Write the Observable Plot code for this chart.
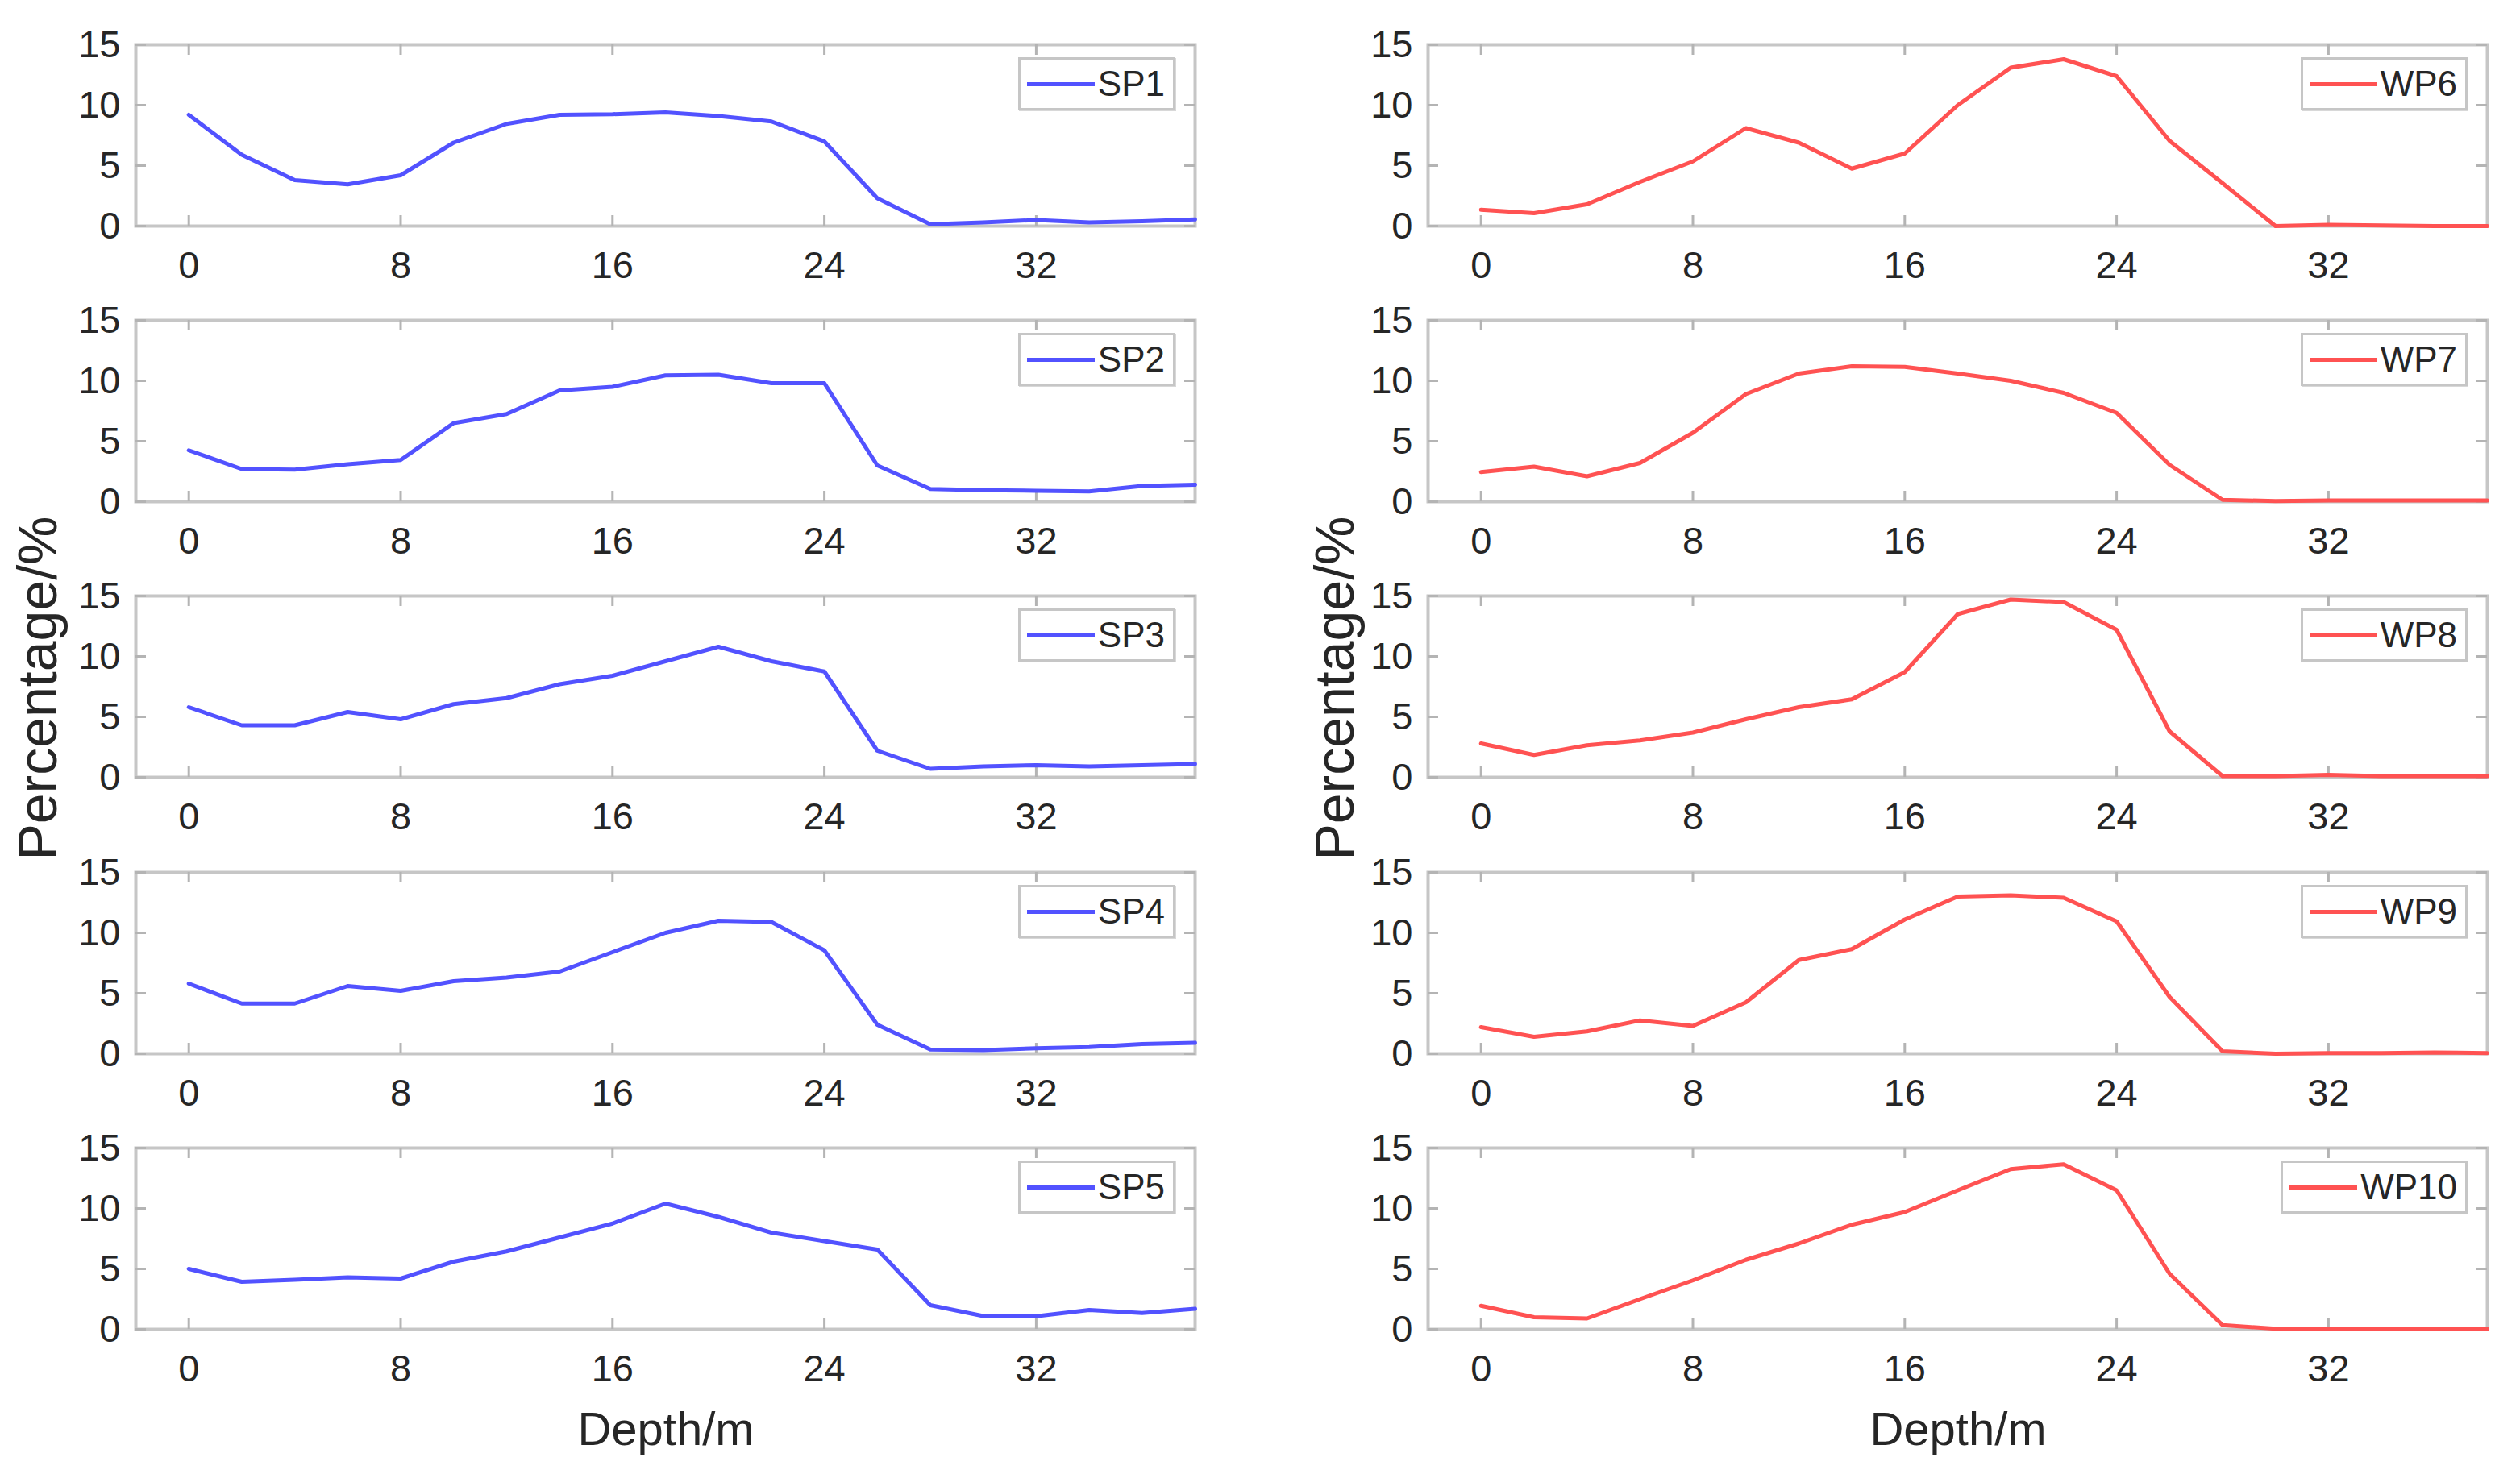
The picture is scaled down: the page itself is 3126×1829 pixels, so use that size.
<!DOCTYPE html>
<html>
<head>
<meta charset="utf-8">
<script src="https://cdn.jsdelivr.net/npm/d3@7"></script>
<script src="https://cdn.jsdelivr.net/npm/@observablehq/plot@0.6"></script>
<style>
  html, body { margin: 0; padding: 0; background: #fff; }
  #page { position: relative; width: 3126px; height: 1829px; background: #fff; font-family: "Liberation Sans", Arial, sans-serif; color: #262626; }
  .panel { position: absolute; }
  .legend { position: absolute; display: flex; align-items: center; background: #fff; border: 3px solid #c6c6c6; box-shadow: 1px 1px 0 #d8d8d8; height: 60px; padding: 0 10px 0 8px; font-size: 44px; color: #262626; box-sizing: content-box; }
  .legend .sw { width: 84px; height: 5px; margin-right: 4px; }
  .ylab { position: absolute; font-size: 68px; color: #262626; transform: translate(-50%, -50%) rotate(-90deg); white-space: nowrap; }
  .xlab { position: absolute; font-size: 58px; color: #262626; transform: translate(-50%, -50%); white-space: nowrap; }
</style>
</head>
<body>
<div id="page"></div>
<script>
const depth = [0,2,4,6,8,10,12,14,16,18,20,22,24,26,28,30,32,34,36,38];
const xTicks = [0, 8, 16, 24, 32];
const yTicks = [0, 5, 10, 15];

const SP1 = [9.2,5.9,3.8,3.45,4.2,6.9,8.45,9.2,9.25,9.4,9.1,8.65,7.0,2.3,0.15,0.3,0.5,0.3,0.4,0.55];
const SP2 = [4.25,2.7,2.65,3.1,3.45,6.5,7.25,9.2,9.5,10.45,10.5,9.8,9.8,3.0,1.05,0.95,0.9,0.85,1.3,1.4];
const SP3 = [5.8,4.3,4.3,5.4,4.8,6.05,6.55,7.7,8.4,9.6,10.8,9.6,8.75,2.2,0.7,0.9,1.0,0.9,1.0,1.1];
const SP4 = [5.8,4.15,4.15,5.6,5.2,6.0,6.3,6.8,8.4,10.0,11.0,10.9,8.55,2.4,0.35,0.3,0.45,0.55,0.8,0.9];
const SP5 = [5.0,3.93,4.1,4.3,4.2,5.6,6.45,7.6,8.75,10.4,9.3,8.0,7.3,6.6,2.0,1.1,1.08,1.6,1.35,1.7];

const WP6 = [1.35,1.07,1.8,3.65,5.35,8.1,6.9,4.75,6.0,10.0,13.1,13.8,12.4,7.05,3.55,0.0,0.1,0.05,0.0,0.0];
const WP7 = [2.45,2.9,2.1,3.2,5.7,8.9,10.6,11.2,11.15,10.6,10.0,9.0,7.35,3.05,0.15,0.05,0.1,0.1,0.1,0.1];
const WP8 = [2.8,1.85,2.65,3.05,3.7,4.8,5.8,6.45,8.7,13.5,14.7,14.5,12.2,3.8,0.1,0.1,0.2,0.1,0.1,0.1];
const WP9 = [2.2,1.4,1.85,2.75,2.3,4.25,7.75,8.65,11.1,13.0,13.1,12.9,10.95,4.7,0.2,0.0,0.05,0.05,0.1,0.05];
const WP10 = [1.95,1.0,0.9,2.5,4.05,5.75,7.1,8.65,9.7,11.5,13.25,13.65,11.5,4.6,0.35,0.05,0.07,0.05,0.05,0.05];

const leftNames = ["SP1","SP2","SP3","SP4","SP5"];
const leftSeries = [SP1, SP2, SP3, SP4, SP5];
const rightNames = ["WP6","WP7","WP8","WP9","WP10"];
const rightSeries = [WP6, WP7, WP8, WP9, WP10];
const blue = "#5252ff";
const red = "#ff5252";

const page = document.getElementById("page");

// layout (pixels)
const frameW = 1314, frameH = 225;
const mL = 100, mR = 20, mT = 20, mB = 75;
const colFrameLeft = [168, 1771];
const rowFrameTop = [55, 397, 739, 1082, 1424];
const frameGray = "#c6c6c6";
const tickGray = "#b4b4b4";
const textColor = "#262626";
const tickLen = 13;

function panel(values, name, color, col, row) {
  const data = depth.map((d, i) => ({depth: d, value: values[i]}));
  const chart = Plot.plot({
    width: frameW + mL + mR,
    height: frameH + mT + mB,
    marginLeft: mL, marginRight: mR, marginTop: mT, marginBottom: mB,
    style: {fontFamily: '"Liberation Sans", Arial, sans-serif', fontSize: "47px", color: textColor, background: "transparent", overflow: "visible"},
    x: {domain: [-2, 38], axis: null},
    y: {domain: [0, 15], axis: null},
    marks: [
      Plot.frame({stroke: frameGray, strokeWidth: 4}),
      Plot.tickX(xTicks, {x: d => d, stroke: tickGray, strokeWidth: 3, insetBottom: frameH - tickLen}),
      Plot.tickX(xTicks, {x: d => d, stroke: tickGray, strokeWidth: 3, insetTop: frameH - tickLen}),
      Plot.tickY(yTicks, {y: d => d, stroke: tickGray, strokeWidth: 3, insetRight: frameW - tickLen}),
      Plot.tickY(yTicks, {y: d => d, stroke: tickGray, strokeWidth: 3, insetLeft: frameW - tickLen}),
      Plot.axisX(xTicks, {anchor: "bottom", tickSize: 0, tickPadding: 31, label: null, fill: textColor, fontSize: 47}),
      Plot.axisY(yTicks, {anchor: "left", tickSize: 0, tickPadding: 19, label: null, fill: textColor, fontSize: 47}),
      Plot.line(data, {x: "depth", y: "value", stroke: color, strokeWidth: 5, strokeLinejoin: "round"})
    ]
  });
  const wrap = document.createElement("div");
  wrap.className = "panel";
  wrap.style.left = (colFrameLeft[col] - mL) + "px";
  wrap.style.top = (rowFrameTop[row] - mT) + "px";
  wrap.appendChild(chart);
  page.appendChild(wrap);

  // legend box, top-right inside the frame
  const lg = document.createElement("div");
  lg.className = "legend";
  const sw = document.createElement("div");
  sw.className = "sw";
  sw.style.background = color;
  const tx = document.createElement("span");
  tx.textContent = name;
  lg.appendChild(sw);
  lg.appendChild(tx);
  lg.style.right = (3126 - (colFrameLeft[col] + frameW - 24)) + "px";
  lg.style.top = (rowFrameTop[row] + 16) + "px";
  page.appendChild(lg);
}

leftSeries.forEach((s, i) => panel(s, leftNames[i], blue, 0, i));
rightSeries.forEach((s, i) => panel(s, rightNames[i], red, 1, i));

function label(cls, text, x, y) {
  const el = document.createElement("div");
  el.className = cls;
  el.textContent = text;
  el.style.left = x + "px";
  el.style.top = y + "px";
  page.appendChild(el);
}
label("ylab", "Percentage/%", 46, 854);
label("ylab", "Percentage/%", 1655, 854);
label("xlab", "Depth/m", 826, 1772);
label("xlab", "Depth/m", 2429, 1772);
</script>
</body>
</html>
